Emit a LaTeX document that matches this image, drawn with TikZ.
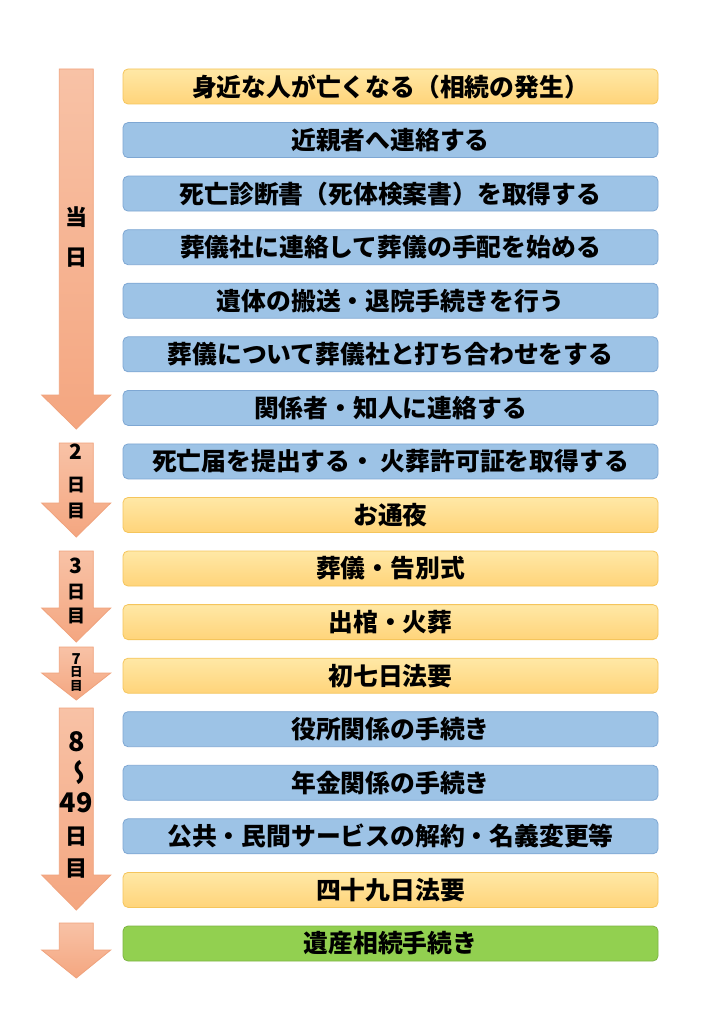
\documentclass[tikz,border=0pt]{standalone}
\usepackage{fontspec}
\setmainfont{Noto Sans CJK JP}
\usepackage{graphicx}
\definecolor{ytop}{HTML}{FFE8A6}
\definecolor{ybot}{HTML}{FFD47A}
\definecolor{ybord}{HTML}{F5C55C}
\definecolor{bfill}{HTML}{9DC3E6}
\definecolor{bbord}{HTML}{7EA7D3}
\definecolor{gfill}{HTML}{92D050}
\definecolor{gbord}{HTML}{7DB443}
\definecolor{atop}{HTML}{F8C2A6}
\definecolor{abot}{HTML}{F4A680}
\definecolor{abord}{HTML}{F0A27C}
\newcommand\downarr[3]{%
  \draw[arrshape] (59.3,#1) -- (93.3,#1) -- (93.3,#2) -- (110.7,#2) -- (76.3,#3) -- (41.7,#2) -- (59.3,#2) -- cycle;}
\begin{document}
\begin{tikzpicture}[x=1pt,y=-1pt,
  box/.style={rounded corners=5pt, minimum width=535pt, minimum height=35pt,
    font=\bfseries\fontsize{24.8}{24.8}\selectfont, inner sep=0pt, line width=0.8pt},
  yel/.style={box, draw=ybord, top color=ytop, bottom color=ybot},
  blu/.style={box, draw=bbord, fill=bfill},
  grn/.style={box, draw=gbord, fill=gfill},
  arrshape/.style={draw=abord, line width=0.8pt, top color=atop, bottom color=abot},
  daylab/.style={font=\bfseries\fontsize{#1}{#1}\selectfont, inner sep=0pt}]
\useasboundingbox (0,0) rectangle (709,1024);
\fill[white] (0,0) rectangle (709,1024);
% arrows
\downarr{69}{395}{429}
\downarr{443}{503}{537}
\downarr{551}{608}{642}
\downarr{647}{673}{700}
\downarr{708}{875}{910}
\downarr{923}{950}{978}
% day labels
\node[daylab=22] (d1a) at (76.3,217) {当};
\node[daylab=22] (d1b) at (76.3,258) {日};
\node[daylab=21] (d2a) at (76.3,452) {2};
\node[daylab=18] (d2b) at (76.3,485) {日};
\node[daylab=18] (d2c) at (76.3,511) {目};
\node[daylab=21] (d3a) at (76.3,566) {3};
\node[daylab=18] (d3b) at (76.3,592) {日};
\node[daylab=18] (d3c) at (76.3,616) {目};
\node[daylab=15] (d7a) at (76.3,659) {7};
\node[daylab=12.5] (d7b) at (76.3,672) {日};
\node[daylab=12.5] (d7c) at (76.3,686) {目};
\node[daylab=27] (d8a) at (76.3,742) {8};
\node[daylab=26] (d8b) at (76.3,772) {\reflectbox{\rotatebox{90}{〜}}};
\node[daylab=27] (d8c) at (76.3,803) {49};
\node[daylab=22] (d8d) at (76.3,837) {日};
\node[daylab=22] (d8e) at (76.3,869) {目};
% boxes
\node[yel] (b1)  at (390.5,86.5)  {身近な人が亡くなる（相続の発生）};
\node[blu] (b2)  at (390.5,140.1) {近親者へ連絡する};
\node[blu] (b3)  at (390.5,193.6) {死亡診断書（死体検案書）を取得する};
\node[blu] (b4)  at (390.5,247.2) {葬儀社に連絡して葬儀の手配を始める};
\node[blu] (b5)  at (390.5,300.7) {遺体の搬送・退院手続きを行う};
\node[blu] (b6)  at (390.5,354.3) {葬儀について葬儀社と打ち合わせをする};
\node[blu] (b7)  at (390.5,407.9) {関係者・知人に連絡する};
\node[blu] (b8)  at (390.5,461.4) {死亡届を提出する・ 火葬許可証を取得する};
\node[yel] (b9)  at (390.5,515.0) {お通夜};
\node[yel] (b10) at (390.5,568.5) {葬儀・告別式};
\node[yel] (b11) at (390.5,622.1) {出棺・火葬};
\node[yel] (b12) at (390.5,675.7) {初七日法要};
\node[blu] (b13) at (390.5,729.2) {役所関係の手続き};
\node[blu] (b14) at (390.5,782.8) {年金関係の手続き};
\node[blu] (b15) at (390.5,836.3) {公共・民間サービスの解約・名義変更等};
\node[yel] (b16) at (390.5,889.9) {四十九日法要};
\node[grn] (b17) at (390.5,943.5) {遺産相続手続き};
\end{tikzpicture}
\end{document}
